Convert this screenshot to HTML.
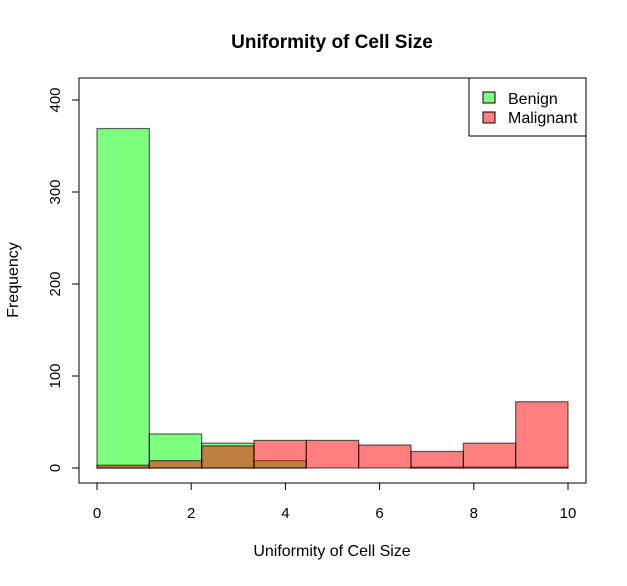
<!DOCTYPE html>
<html><head><meta charset="utf-8"><style>
body{margin:0;background:#fff;font-family:"Liberation Sans",sans-serif}
</style></head><body>
<svg id="chart" width="627" height="581" viewBox="0 0 627 581">
<text x="332" y="48" text-anchor="middle" font-size="19" font-weight="bold">Uniformity of Cell Size</text>
<text x="332" y="556" text-anchor="middle" font-size="16">Uniformity of Cell Size</text>
<text x="0" y="0" transform="translate(18,280) rotate(-90)" text-anchor="middle" font-size="16">Frequency</text>
<g id="bars"></g>
<g id="axes"></g>
<rect x="79" y="78" width="507" height="405" fill="none" stroke="#000"/>
<g>
<rect x="469" y="78" width="117" height="58" fill="#fff" stroke="#000"/>
<rect x="483" y="92" width="12" height="11" fill="rgb(128,255,128)" stroke="#000"/>
<text x="508" y="104" font-size="16">Benign</text>
<rect x="483" y="112" width="12" height="11" fill="rgb(255,128,128)" stroke="#000"/>
<text x="508" y="123" font-size="16">Malignant</text>
</g>
</svg>
<script>
const breaks=[0,1.111,2.222,3.333,4.444,5.556,6.667,7.778,8.889,10];
const benign=[369,37,27,8,0,0,1,1,1];
const malignant=[3,8,24,30,30,25,18,27,72];
const xTicks=[0,2,4,6,8,10];
const yTicks=[0,100,200,300,400];
const NS="http://www.w3.org/2000/svg";
const xs=v=>97+v*47.1;
const ys=v=>468-v*0.92;
const bars=document.getElementById('bars');
const axes=document.getElementById('axes');
function mk(t,a,p){const e=document.createElementNS(NS,t);for(const k in a)e.setAttribute(k,a[k]);p.appendChild(e);return e;}
function drawSeries(vals,fill,name){
  vals.forEach((v,i)=>{
    const r=mk('rect',{x:xs(breaks[i]),y:ys(v),width:xs(breaks[i+1])-xs(breaks[i]),height:ys(0)-ys(v),fill:fill,stroke:'#000','stroke-width':1.2,'stroke-opacity':0.6},bars);
    
    
  });
}
drawSeries(benign,'rgba(0,255,0,0.5)','benign');
drawSeries(malignant,'rgba(255,0,0,0.5)','malignant');
mk('line',{x1:xs(0),x2:xs(10),y1:483,y2:483,stroke:'#000'},axes);
xTicks.forEach(t=>{
  mk('line',{x1:xs(t),x2:xs(t),y1:483,y2:490,stroke:'#000'},axes);
  const e=mk('text',{x:xs(t),y:518,'text-anchor':'middle','font-size':15},axes);
  e.textContent=t;
  
  
});
mk('line',{x1:79,x2:79,y1:ys(0),y2:ys(400),stroke:'#000'},axes);
yTicks.forEach(t=>{
  mk('line',{x1:72,x2:79,y1:ys(t),y2:ys(t),stroke:'#000'},axes);
  const e=mk('text',{x:0,y:0,transform:`translate(60,${ys(t)}) rotate(-90)`,'text-anchor':'middle','font-size':15},axes);
  e.textContent=t;
  
  
});
</script>
</body></html>
